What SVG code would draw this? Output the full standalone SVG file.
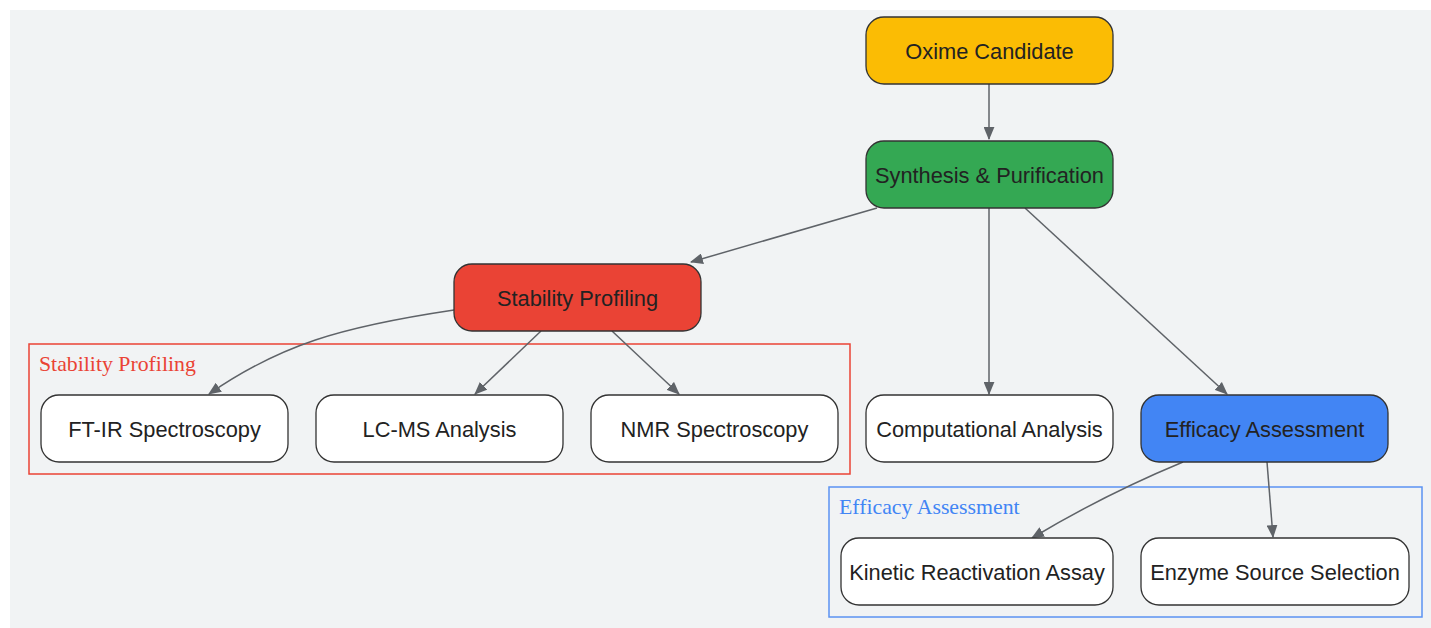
<svg xmlns="http://www.w3.org/2000/svg" width="1431" height="628" viewBox="0 0 1431 628">
<defs>
<marker id="arr" viewBox="0 0 12 10" refX="11" refY="5" markerWidth="13" markerHeight="11" markerUnits="userSpaceOnUse" orient="auto">
<path d="M0,0 L12,5 L0,10 z" fill="#5f6368"/>
</marker>
<style>
.node rect{stroke:#333;stroke-width:1.3}
.node text{font-family:"Liberation Sans",Arial,sans-serif;font-size:21.8px;fill:#222;text-anchor:middle;dominant-baseline:central}
.edge{fill:none;stroke:#5f6368;stroke-width:1.5;marker-end:url(#arr)}
.cl{fill:none;stroke-width:1.5}
.cltext{font-family:"Liberation Serif","Times New Roman",serif;font-size:21.8px}
</style>
</defs>
<rect x="0" y="0" width="1431" height="628" fill="#ffffff"/>
<rect x="10" y="10" width="1421" height="618" fill="#f1f3f4"/>
<g id="cluster-stability">
<rect class="cl" x="29" y="344" width="821" height="130" stroke="#ea4335"/>
<text class="cltext" x="39" y="371" fill="#ea4335">Stability Profiling</text>
</g>
<g id="cluster-efficacy">
<rect class="cl" x="829" y="487" width="593" height="130" stroke="#5b93f2"/>
<text class="cltext" x="839" y="514" fill="#4285f4">Efficacy Assessment</text>
</g>
<g id="connectors">
<path class="edge" d="M989,84 L989,139"/>
<path class="edge" d="M877,208 L691,262"/>
<path class="edge" d="M989,208 L989,394"/>
<path class="edge" d="M1025,208 L1227,394"/>
<path class="edge" d="M454,310 C340,327 280,345 209,394"/>
<path class="edge" d="M541,331 L475,394"/>
<path class="edge" d="M612,331 L679,394"/>
<path class="edge" d="M1183,462 C1130,484 1082,508 1032,538"/>
<path class="edge" d="M1267,462 L1273,537"/>
</g>
<g id="oxime" class="node"><rect x="866" y="17" width="247" height="67" rx="18" fill="#fbbc04"/><text x="989.5" y="51">Oxime Candidate</text></g>
<g id="synthesis" class="node"><rect x="866" y="141" width="247" height="67" rx="18" fill="#34a853"/><text x="989.5" y="175">Synthesis &amp; Purification</text></g>
<g id="stability" class="node"><rect x="454" y="264" width="247" height="67" rx="18" fill="#ea4335"/><text x="577.5" y="298">Stability Profiling</text></g>
<g id="ftir" class="node"><rect x="41" y="395" width="247" height="67" rx="18" fill="#ffffff"/><text x="164.5" y="429">FT-IR Spectroscopy</text></g>
<g id="lcms" class="node"><rect x="316" y="395" width="247" height="67" rx="18" fill="#ffffff"/><text x="439.5" y="429">LC-MS Analysis</text></g>
<g id="nmr" class="node"><rect x="591" y="395" width="247" height="67" rx="18" fill="#ffffff"/><text x="714.5" y="429">NMR Spectroscopy</text></g>
<g id="computational" class="node"><rect x="866" y="395" width="247" height="67" rx="18" fill="#ffffff"/><text x="989.5" y="429">Computational Analysis</text></g>
<g id="efficacy" class="node"><rect x="1141" y="395" width="247" height="67" rx="18" fill="#4285f4"/><text x="1264.5" y="429">Efficacy Assessment</text></g>
<g id="kinetic" class="node"><rect x="841" y="538" width="272" height="67" rx="18" fill="#ffffff"/><text x="977" y="572">Kinetic Reactivation Assay</text></g>
<g id="enzyme" class="node"><rect x="1141" y="538" width="268" height="67" rx="18" fill="#ffffff"/><text x="1275" y="572">Enzyme Source Selection</text></g>
</svg>
